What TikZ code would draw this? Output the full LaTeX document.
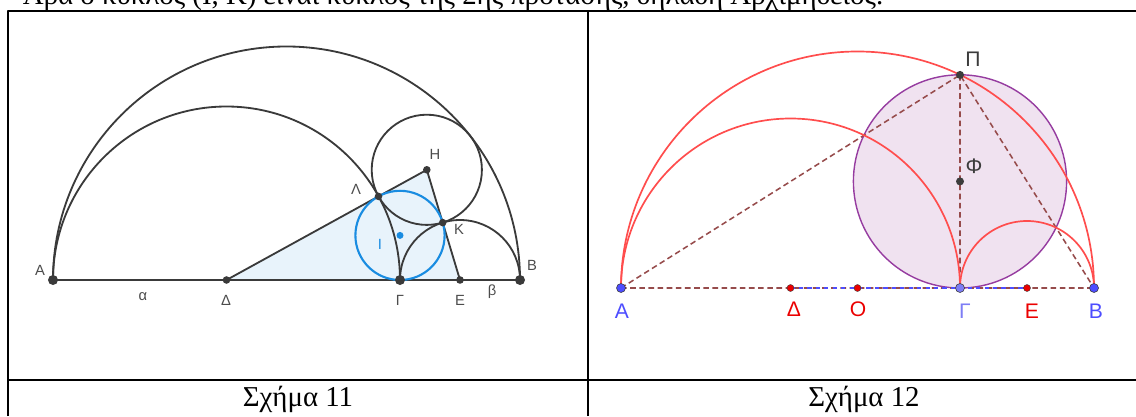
\documentclass[tikz,border=0pt]{standalone}
\usepackage{fontspec}
\setmainfont{Liberation Serif}
\newfontfamily\geofont{Liberation Sans}
\definecolor{geoline}{RGB}{58,58,58}
\definecolor{geoblue}{RGB}{25,140,225}
\definecolor{trifill}{RGB}{232,243,251}
\definecolor{arcred}{RGB}{255,77,77}
\definecolor{phiedge}{RGB}{150,60,160}
\definecolor{phifill}{RGB}{240,226,240}
\definecolor{dashbrown}{RGB}{150,75,75}
\definecolor{ptblue}{RGB}{77,77,255}
\definecolor{ptlight}{RGB}{125,125,245}
\definecolor{ptred}{RGB}{235,0,0}
\definecolor{ptdark}{RGB}{60,60,60}
\tikzset{
	lbl/.style={font=\geofont\fontsize{10.5}{12}\selectfont, text=black!70},
	biglbl/.style={font=\geofont\fontsize{15}{17}\selectfont},
	caption/.style={font=\fontsize{20.5}{23}\selectfont},
	auxline/.style={dashbrown, line width=1.1pt, dash pattern=on 4pt off 2.5pt},
}

\begin{document}
\begin{tikzpicture}[x=0.025cm, y=0.025cm, line join=round]
	\useasboundingbox (0,0) rectangle (1136,416);
	\clip (0,0) rectangle (1136,416);
	% text line and table
	\node[anchor=base west, caption] (prev) at (18,411) {Άρα ο κύκλος (Ι, Κ) είναι κύκλος της 2ης πρότασης, δηλαδή Αρχιμήδειος.};
	\draw[line width=1.1pt] (8,0) -- (8,405) -- (1136,405) (588,0) -- (588,405) (8,36) -- (1136,36);
	\node[anchor=base, caption] (cap11) at (298,10) {Σχήμα 11};
	\node[anchor=base, caption] (cap12) at (864,10) {Σχήμα 12};
	% Sxhma 11
	\coordinate (A) at (53,136); \coordinate (B) at (520,136);
	\coordinate (D) at (226.5,136); \coordinate (G) at (400,136); \coordinate (E) at (460,136);
	\coordinate (H) at (426.8,246.2); \coordinate (L) at (378.5,219.6); \coordinate (K) at (442.7,193.4);
	\coordinate (I) at (400,180.6);
	\fill[trifill] (D) -- (H) -- (E) -- cycle;
	\begin{scope}[geoline, line width=1.3pt]
		\draw (B) arc (0:180:233.5);
		\draw (G) arc (0:180:173.5);
		\draw (B) arc (0:180:60);
		\draw (H) circle (55.1);
		\draw (A) -- (B) (D) -- (H) -- (E);
	\end{scope}
	\draw[geoblue, line width=1.5pt] (I) circle (44.6);
	\foreach \p in {A,G,B} {\fill[geoline] (\p) circle (5);}
	\foreach \p in {D,E,H,L,K} {\fill[geoline] (\p) circle (3.8);}
	\fill[geoblue] (I) circle (3.5);
	\foreach \n/\t/\x/\y in {lA/Α/40/146, lB/Β/532/151, la/α/143/119, lD/Δ/226/116, lG/Γ/400/116, lE/Ε/460/116, lb/β/492/124, lL/Λ/356/227, lH/Η/435/262, lK/Κ/459/187} {\node[lbl] (\n) at (\x,\y) {\t};}
	\node[lbl, text=geoblue] (lI) at (380,172) {Ι};
	% Sxhma 12
	\coordinate (A2) at (621,128); \coordinate (B2) at (1094,128); \coordinate (O2) at (857.5,128);
	\coordinate (D2) at (790.5,128); \coordinate (G2) at (960,128); \coordinate (E2) at (1027,128);
	\coordinate (P2) at (960,341.1); \coordinate (F2) at (960,234.6);
	\filldraw[fill=phifill, draw=phiedge, line width=1pt] (F2) circle (106.6);
	\draw[auxline] (A2) -- (B2) (A2) -- (P2) -- (B2) (P2) -- (G2);
	\draw[ptblue, line width=1pt, dashed] (D2) -- (E2);
	\begin{scope}[arcred, line width=1.2pt]
		\draw (B2) arc (0:180:236.5);
		\draw (G2) arc (0:180:169.5);
		\draw (B2) arc (0:180:67);
	\end{scope}
	\foreach \p in {A2,B2} {\filldraw[fill=ptblue, draw=ptdark, line width=0.4pt] (\p) circle (4.5);}
	\filldraw[fill=ptlight, draw=ptdark, line width=0.4pt] (G2) circle (4.5);
	\foreach \p in {D2,O2,E2} {\filldraw[fill=ptred, draw=ptdark, line width=0.3pt] (\p) circle (3.5);}
	\foreach \p in {P2,F2} {\fill[ptdark] (\p) circle (4);}
	\foreach \n/\t/\c/\x/\y in {lA2/Α/ptblue/622/105, lD2/Δ/ptred/794/107, lO2/Ο/ptred/858/107, lG2/Γ/ptlight/965/105, lE2/Ε/ptred/1032/105, lB2/Β/ptblue/1096/105, lP2/Π/ptdark/973/357, lF2/Φ/ptdark/974/250} {\node[biglbl, text=\c] (\n) at (\x,\y) {\t};}
\end{tikzpicture}
\end{document}
